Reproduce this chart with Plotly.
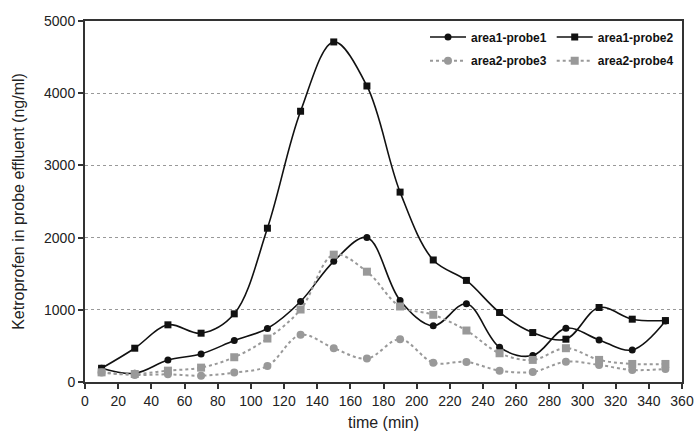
import plotly.graph_objects as go

time_min = [10, 30, 50, 70, 90, 110, 130, 150, 170, 190, 210, 230, 250, 270, 290, 310, 330, 350]
area1_probe1 = [190, 120, 305, 389, 574, 741, 1115, 1671, 2000, 1130, 778, 1083, 481, 366, 745, 583, 444, 845]
area1_probe2 = [190, 468, 792, 676, 944, 2130, 3750, 4710, 4100, 2630, 1690, 1407, 963, 685, 593, 1032, 870, 851]
area2_probe3 = [130, 97, 106, 88, 130, 222, 653, 468, 324, 593, 268, 278, 157, 139, 282, 236, 167, 180]
area2_probe4 = [134, 111, 157, 199, 343, 602, 1004, 1764, 1528, 1046, 931, 713, 398, 306, 468, 306, 250, 250]

black = "#111111"
grey = "#999999"

fig = go.Figure()
series = [
    ("area1-probe1", area1_probe1, black, "solid", "circle", 7, "legend"),
    ("area1-probe2", area1_probe2, black, "solid", "square", 7, "legend"),
    ("area2-probe3", area2_probe3, grey, "dot", "circle", 8, "legend2"),
    ("area2-probe4", area2_probe4, grey, "dot", "square", 8, "legend2"),
]
for name, vals, col, dash, sym, size, lg in series:
    fig.add_trace(go.Scatter(
        x=time_min, y=vals, name=name, mode="lines+markers",
        line=dict(color=col, width=1.6 if col == black else 2, dash=dash, shape="spline", smoothing=1.0),
        marker=dict(color=col, symbol=sym, size=size),
        legend=lg,
    ))

axis_common = dict(
    showline=True, linecolor="#333333", linewidth=2, mirror=True,
    ticks="outside", ticklen=5, tickwidth=1.5, tickcolor="#333333",
    tickfont=dict(family="Liberation Sans, Arial, sans-serif", size=14, color="#222222"),
    zeroline=False, automargin=False,
)

legend_font = dict(family="Liberation Sans, Arial, sans-serif", size=12, color="#111111", weight="bold")

fig.update_layout(
    width=696, height=431,
    margin=dict(l=85, r=14, t=21, b=49),
    plot_bgcolor="white", paper_bgcolor="white",
    font=dict(family="Liberation Sans, Arial, sans-serif", color="#222222"),
    xaxis=dict(range=[0, 360], dtick=20, showgrid=False,
               title=dict(text="time (min)", font=dict(size=16)), **axis_common),
    yaxis=dict(range=[0, 5000], dtick=1000, showgrid=True, gridcolor="#999999",
               griddash="dot", gridwidth=1,
               title=dict(text="Ketroprofen in probe effluent (ng/ml)", font=dict(size=16)),
               **axis_common),
    legend=dict(orientation="h", x=0.995, xanchor="right", y=0.996, yanchor="top",
                bgcolor="rgba(0,0,0,0)", font=legend_font,
                itemwidth=36, tracegroupgap=0),
    legend2=dict(orientation="h", x=0.995, xanchor="right", y=0.93, yanchor="top",
                 bgcolor="rgba(0,0,0,0)", font=legend_font,
                 itemwidth=36, tracegroupgap=0),
)

# remove the default page margin so the 696x431 figure fills the window exactly
fig.write_html("out.html", config={"displayModeBar": False},
               post_script="document.body.style.margin='0';document.body.style.overflow='hidden';")
